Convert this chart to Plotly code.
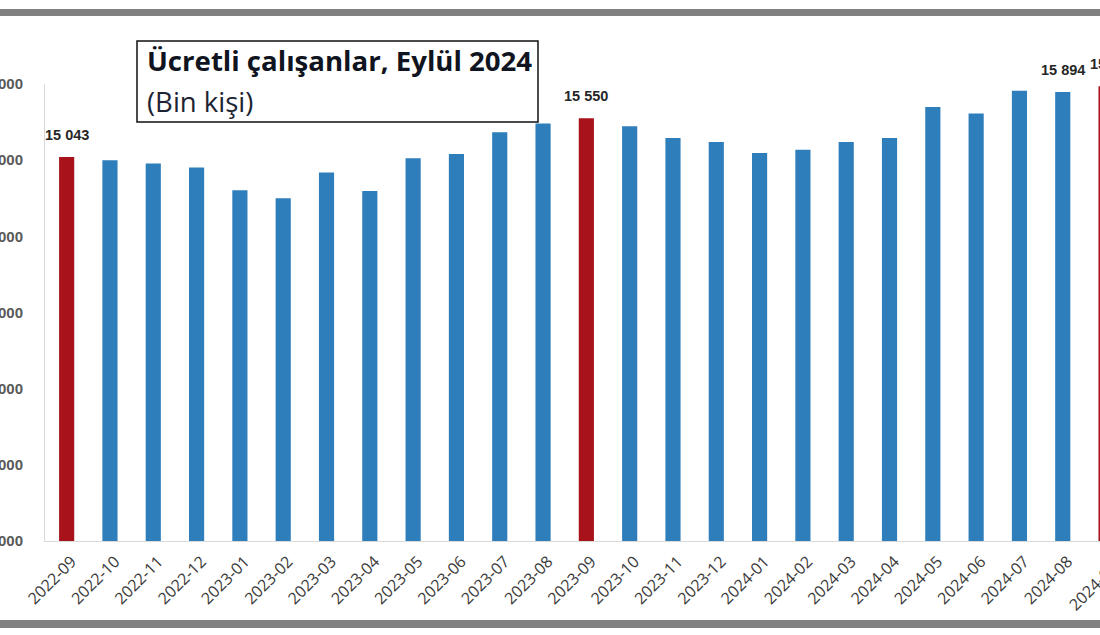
import plotly.graph_objects as go

# ---- data ----
months = ["2022-09", "2022-10", "2022-11", "2022-12", "2023-01", "2023-02", "2023-03",
          "2023-04", "2023-05", "2023-06", "2023-07", "2023-08", "2023-09", "2023-10",
          "2023-11", "2023-12", "2024-01", "2024-02", "2024-03", "2024-04", "2024-05",
          "2024-06", "2024-07", "2024-08", "2024-09"]
employees = [15043, 15000, 14955, 14905, 14605, 14500, 14838, 14596, 15025, 15082,
             15366, 15481, 15550, 15445, 15292, 15239, 15095, 15138, 15239, 15292,
             15698, 15612, 15912, 15894, 15970]
highlight_months = ["2022-09", "2023-09", "2024-09"]
labelled_months = ["2022-09", "2023-09", "2024-08", "2024-09"]
y_ticks = [10000, 11000, 12000, 13000, 14000, 15000, 16000]
title_line1 = "Ücretli çalışanlar, Eylül 2024"
title_line2 = "(Bin kişi)"

RED = "#A8131B"
BLUE = "#2E7EBB"
TICK_FONT = dict(family="Open Sans", size=16, color="#3a3a3a")

def fmt(v):
    return f"{v:,}".replace(",", " ")

# ---- layout geometry ----
W, H = 1100, 635
ML, MR, MT, MB = 45, 0, 84, 94
PW, PH = W - ML - MR, H - MT - MB
XR = [-0.5, 23.86]
YR = [10000, 16000]
TICK_SHIFT, TICK_STANDOFF = 5, 4

def xfrac(i):
    return (i - XR[0]) / (XR[1] - XR[0])

def px_x(px):
    return (px - ML) / PW

def px_y(py):
    return (H - MB - py) / PH

colors = [RED if m in highlight_months else BLUE for m in months]

fig = go.Figure()
fig.add_bar(x=months, y=employees, marker=dict(color=colors, line=dict(width=0)),
            width=0.35, hoverinfo="x+y")

annotations = []
# data labels
for m in labelled_months:
    i = months.index(m)
    v = employees[i]
    annotations.append(dict(
        xref="paper", yref="y", x=xfrac(i), y=v, yshift=22,
        xshift=6 if i == len(months) - 1 else 0,
        text=fmt(v), showarrow=False, xanchor="center", yanchor="middle",
        font=dict(family="Liberation Sans, Arial", size=14.5, color="#262626", weight="bold")))

# last (cut-off) category tick label
last = len(months) - 1
annotations.append(dict(
    xref="paper", yref="paper", x=xfrac(last), y=0,
    xshift=-18 + TICK_SHIFT, yshift=-49 + TICK_STANDOFF,
    text=months[last], showarrow=False, textangle=-45, xanchor="center", yanchor="middle",
    font=TICK_FONT))

# title box texts
annotations.append(dict(
    xref="paper", yref="paper", x=px_x(145), y=px_y(60), text=f"<b>{title_line1}</b>",
    showarrow=False, xanchor="left", yanchor="middle",
    font=dict(family="Open Sans", size=27.6, color="#0f1420")))
annotations.append(dict(
    xref="paper", yref="paper", x=px_x(145), y=px_y(101), text=title_line2,
    showarrow=False, xanchor="left", yanchor="middle",
    font=dict(family="Open Sans", size=27.5, color="#1c2434")))

shapes = [
    # title box
    dict(type="rect", xref="paper", yref="paper", x0=px_x(137), x1=px_x(538),
         y0=px_y(41), y1=px_y(122), line=dict(color="#111111", width=1.5),
         fillcolor="rgba(255,255,255,0)", layer="above"),
    # top frame band
    dict(type="rect", xref="paper", yref="paper", x0=px_x(0), x1=px_x(W),
         y0=px_y(9), y1=px_y(16), line=dict(width=0), fillcolor="#808080", layer="above"),
    # bottom frame band
    dict(type="rect", xref="paper", yref="paper", x0=px_x(0), x1=px_x(W),
         y0=px_y(620), y1=px_y(628), line=dict(width=0), fillcolor="#808080", layer="above"),
]

fig.update_layout(
    width=W, height=H, autosize=False,
    margin=dict(l=ML, r=MR, t=MT, b=MB, pad=0),
    paper_bgcolor="white", plot_bgcolor="white",
    showlegend=False, bargap=0.65,
    annotations=annotations, shapes=shapes,
    xaxis=dict(type="category", range=XR, showgrid=False, zeroline=False,
               showline=True, linecolor="#d9d9d9", linewidth=1, ticks="",
               tickangle=-45, automargin=False, ticklabelstandoff=TICK_STANDOFF,
               ticklabelshift=TICK_SHIFT, tickfont=TICK_FONT),
    yaxis=dict(range=YR, tickvals=y_ticks, ticktext=[fmt(v) for v in y_ticks],
               showgrid=False, zeroline=False, showline=True, linecolor="#d9d9d9",
               linewidth=1, ticks="", automargin=False, ticklabelstandoff=18,
               tickfont=dict(family="Liberation Sans, Arial", size=15, color="#595959",
                             weight="bold")),
)

fig.write_html("out.html")
